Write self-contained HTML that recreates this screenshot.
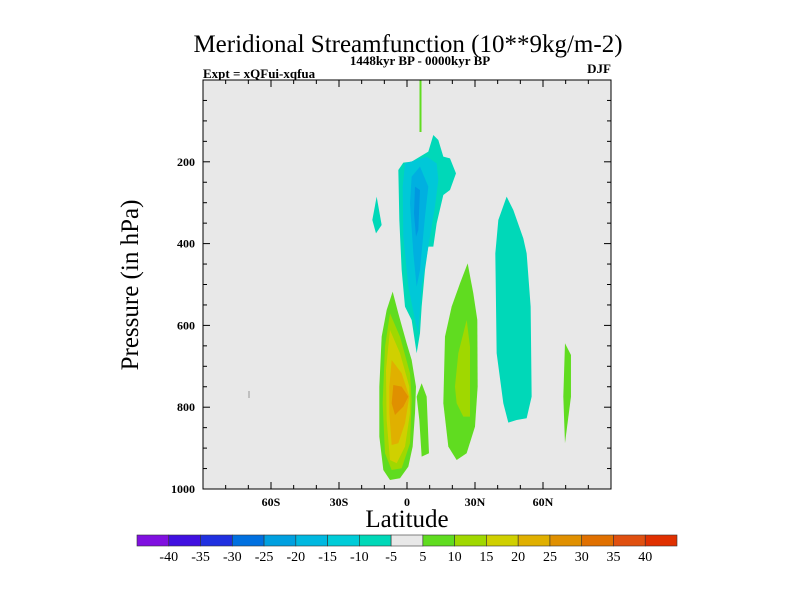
<!DOCTYPE html>
<html><head><meta charset="utf-8"><style>
body{margin:0;background:#fff}
svg text{font-family:"Liberation Serif",serif;fill:#000}
</style></head><body>
<svg id="chart" width="800" height="600" viewBox="0 0 800 600" xmlns="http://www.w3.org/2000/svg">
<text x="408" y="52" font-size="25" text-anchor="middle">Meridional Streamfunction (10**9kg/m-2)</text>
<text x="203" y="78" font-size="13" font-weight="bold">Expt = xQFui-xqfua</text>
<text x="420" y="65" font-size="13" font-weight="bold" text-anchor="middle">1448kyr BP - 0000kyr BP</text>
<text x="611" y="73" font-size="13" font-weight="bold" text-anchor="end">DJF</text>
<rect x="203" y="80" width="408" height="409" fill="#e8e8e8"/>
<g id="contours" transform="translate(340,120) scale(0.3333)"></g>
<rect x="419.5" y="80" width="2" height="52" fill="#60dc20"/>
<line x1="249" y1="391" x2="249" y2="398" stroke="#999" stroke-width="1"/>
<rect x="203" y="80" width="408" height="409" fill="none" stroke="#000" stroke-width="1"/>
<g id="axes"></g>
<text transform="translate(138,285) rotate(-90)" font-size="25" text-anchor="middle">Pressure (in hPa)</text>
<text x="407" y="527" font-size="25" text-anchor="middle">Latitude</text>
<g id="cbar"></g>
</svg>
<script>
const NS="http://www.w3.org/2000/svg";
const cbLabels=["-40","-35","-30","-25","-20","-15","-10","-5","5","10","15","20","25","30","35","40"];
const cbColors=["#8010e0","#4010e0","#2030e0","#0070e0","#00a0e0","#00b8e0","#00ccd8","#00d8b8","#e8e8e8","#60dc20","#a0d800","#d0d000","#e0b000","#e09000","#e07000","#e05010","#e03000"];
const xTicks=[-60,-30,0,30,60];
const xTickLabels=["60S","30S","0","30N","60N"];
const yTicks=[200,400,600,800,1000];
const contourLevels=[
 ["#00d8b8",[[175,150],[190,128],[215,125],[240,110],[265,95],[280,45],[295,60],[310,110],[330,115],[348,160],[330,210],[310,225],[290,310],[280,380],[265,380],[255,450],[245,560],[240,640],[230,700],[215,600],[195,560],[185,450],[178,300]]],
 ["#00c8d8",[[195,130],[230,120],[260,110],[290,130],[295,180],[285,260],[265,380],[245,500],[235,640],[225,600],[205,500],[190,350],[188,200]]],
 ["#00b0e0",[[215,170],[240,140],[265,200],[255,290],[240,450],[230,500],[220,400],[210,250]]],
 ["#0098e0",[[225,200],[240,210],[235,330],[228,350],[222,280]]],
 ["#00d8b8",[[110,230],[125,315],[108,340],[97,300]]],
 ["#00d8b8",[[500,230],[520,270],[550,355],[560,400],[572,560],[575,830],[560,895],[530,900],[505,908],[490,850],[470,700],[466,400],[475,300]]],
 ["#60dc20",[[675,670],[693,705],[693,830],[675,970],[670,830]]],
 ["#60dc20",[[383,430],[400,520],[412,600],[413,800],[405,920],[380,1000],[350,1020],[325,980],[310,850],[315,650],[335,560],[360,490]]],
 ["#a0d800",[[380,600],[390,680],[390,890],[370,890],[350,850],[345,800],[355,700]]],
 ["#60dc20",[[245,790],[260,830],[267,1000],[245,1010],[238,900],[230,830]]],
 ["#60dc20",[[158,515],[175,580],[200,670],[215,720],[228,800],[225,880],[218,980],[205,1040],[180,1075],[150,1080],[130,1050],[118,950],[118,800],[125,650],[140,570]]],
 ["#a0d800",[[150,580],[180,650],[210,760],[215,840],[210,970],[185,1045],[155,1050],[135,1000],[128,850],[135,680]]],
 ["#d0d000",[[150,630],[180,700],[208,800],[210,880],[195,980],[170,1030],[150,1020],[140,900],[138,750]]],
 ["#e0b000",[[155,720],[185,760],[208,830],[195,910],[175,970],[155,975],[148,880],[148,800]]],
 ["#e09000",[[160,795],[185,800],[205,830],[190,860],[165,885],[155,850]]]
];
const X0=203,X1=611,Y0=80,Y1=489;
const xs=v=>X0+(v+90)/180*(X1-X0);
const ys=p=>Y0+p/1000*(Y1-Y0);
function mk(tag,attrs,parent){const e=document.createElementNS(NS,tag);for(const k in attrs)e.setAttribute(k,attrs[k]);parent.appendChild(e);return e;}
const cg=document.getElementById('contours');
contourLevels.forEach(c=>{
 const p=mk('polygon',{points:c[1].map(q=>q.join(',')).join(' '),fill:c[0]},cg);
 
 
});
const ax=document.getElementById('axes');
for(let v=-90;v<=90;v+=10){
 const x=xs(v),len=(v%30===0)?7:4;
 const a=mk('line',{x1:x,y1:Y1,x2:x,y2:Y1-len,stroke:'#000'},ax);
 
 const b=mk('line',{x1:x,y1:Y0,x2:x,y2:Y0+len,stroke:'#000'},ax);
 
}
xTicks.forEach((v,i)=>{
 const t=mk('text',{x:xs(v),y:Y1+17,'font-size':12,'font-weight':'bold','text-anchor':'middle'},ax);
 t.textContent=xTickLabels[i];
 
});
for(let p=0;p<=1000;p+=50){
 const y=ys(p),len=(p%200===0)?7:4;
 const a=mk('line',{x1:X0,y1:y,x2:X0+len,y2:y,stroke:'#000'},ax);
 
 const b=mk('line',{x1:X1,y1:y,x2:X1-len,y2:y,stroke:'#000'},ax);
 
}
yTicks.forEach(p=>{
 const t=mk('text',{x:X0-8,y:ys(p)+4,'font-size':12,'font-weight':'bold','text-anchor':'end'},ax);
 t.textContent=String(p);
 
});
const cb=document.getElementById('cbar');
const CB0=137,CB1=677,n=cbColors.length,w=(CB1-CB0)/n;
cbColors.forEach((c,i)=>{
 const r=mk('rect',{x:CB0+i*w,y:535,width:w,height:11,fill:c,stroke:'#333','stroke-width':0.6},cb);
 
});
cbLabels.forEach((l,i)=>{
 const t=mk('text',{x:CB0+(i+1)*w,y:561,'font-size':14,'text-anchor':'middle'},cb);
 t.textContent=l;
 
});
</script>
</body></html>
